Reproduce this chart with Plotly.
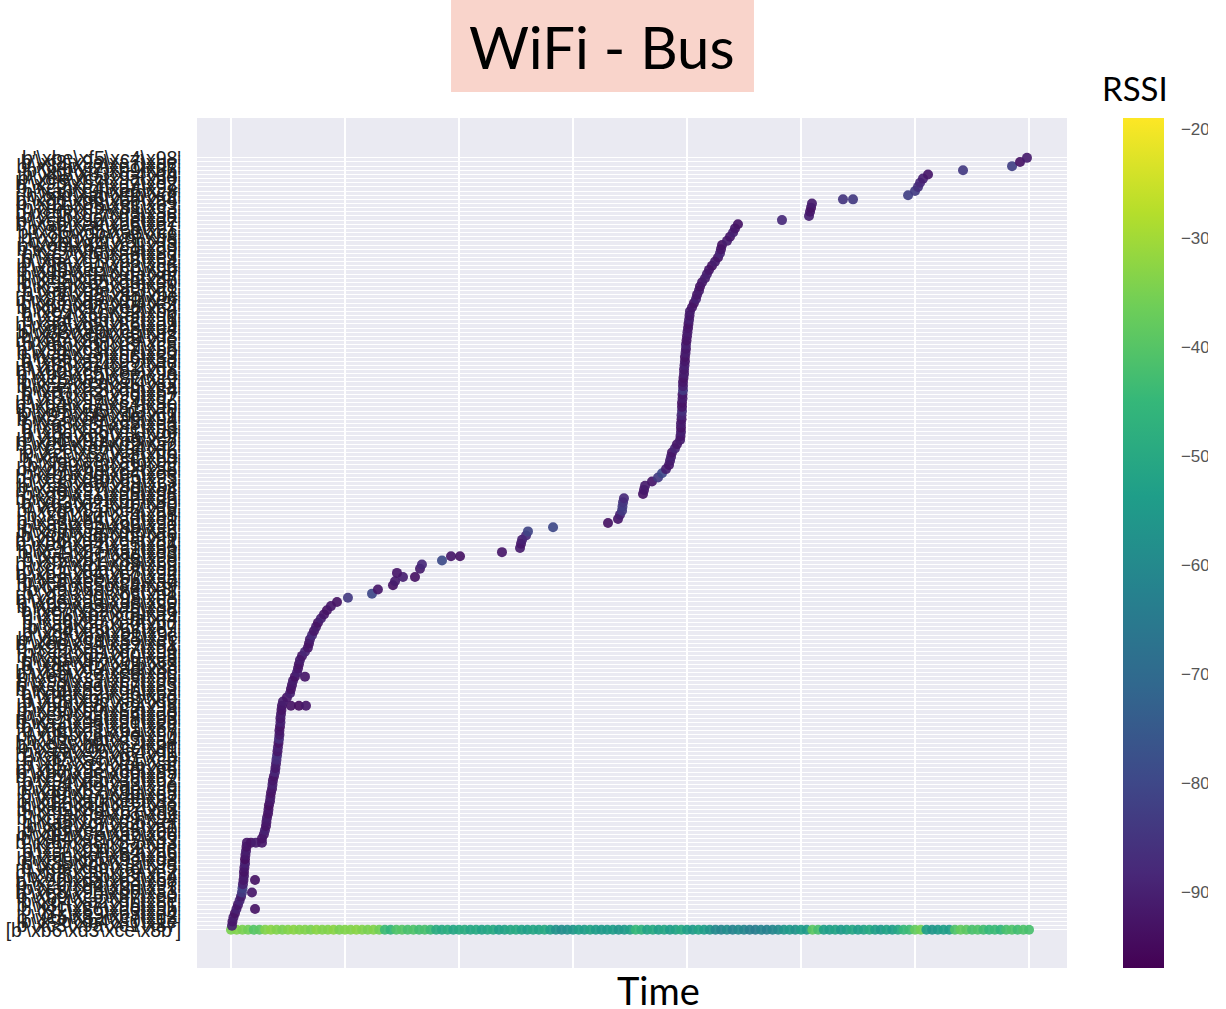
import plotly.graph_objects as go

# SSID labels (byte strings), bottom row first; row 0 is the bus's own access point
ssid_labels = [
    r"[b'\xb6\xd3\xce\x8b']",
    r"b'\xc3\x9a\xe1\x87'", r"b'\x9d\xb4\xf0\x1e'", r"b'\xe5\x8a\xc7\xd2'", r"b'x\xa9\xb3\xe4'", r"b'\xf1\x86\xd0\xab'", r"b'\x8c\xe7\x95\xb1'",
    r"b'\xd4\xa2\xfb\x8e'", r"b'\xb9\xc5\x87\xe0'", r"b'\xe8\x9b\xd6\xa3'", r"b'\xa7\xf4\x8d\xc1'", r"b'\xc9\x84\xbe\x97'", r"b'\x92\xda\xe3\xb8'",
    r"b'\xf6\xab\x8f\xc4'", r"b'\xb2\x98\xd9\xe7'", r"b'\xde\x8b\xa1\xf5'", r"b'\x85\xc8\xf2\x9a'", r"b'\xe1\xb6\x9c\xd8'", r"b'\xac\xef\x83\xb5'",
    r"b'\xcf\x91\xe4\xa6'", r"b'\x97\xbd\xc2\xfe'", r"b'\xeb\xa8\x8a\xd3'", r"b'\xb4\xd1\xf7\x89'", r"b'\xd9\x8e\xab\xc6'", r"b'\x8f\xe2\xc5\xb0'",
    r"b'\xf3\x9f\xd4\xa1'", r"b'\xa5\xc7\x86\xef'", r"b'\xce\xb3\xe9\x94'", r"b'\x9a\xf8\xb1\xdc'", r"b'\xe6\x8d\xa7\xc3'", r"b'\xbb\xd5\x92\xfa'",
    r"b'\xd2\xa0\xec\x88'", r"b'\x88\xe9\xbf\xb7'", r"b'\xf0\xb7\x8b\xd5'", r"b'\xa9\x82\xde\xc9'", r"b'\xc4\xfd\xa3\x9e'", r"b'\x94\xcb\xf6\xb2'",
    r"b'\xe9\xa5\x99\xd7'", r"b'\xb7\xde\xc0\x85'", r"b'\xdb\x93\xb8\xe6'", r"b'\x83\xc0\xe5\xaf'", r"b'\xf7\xac\x91\xcb'", r"b'\xad\xe4\xd7\x9b'",
    r"b'\xca\x96\xa4\xf1'", r"b'\x9e\xdb\xcc\x8d'", r"b'\xe3\xb9\x87\xbe'", r"b'\xbe\x8f\xf3\xa4'", r"b'\xd5\xc6\xae\x90'", r"b'\x8b\xf1\xba\xc7'",
    r"b'\xfa\xa3\xd1\x86'", r"b'\xa2\xd8\x9d\xe9'", r"b'\xc7\x8a\xe8\xb3'", r"b'\x99\xcf\xb4\xd0'", r"b'\xec\xb0\x8e\xa8'", r"b'\xb0\xe6\xc9\x95'",
    r"b'\xd8\x9c\xa2\xf9'", r"b'\x86\xbb\xf0\xcd'", r"b'\xf4\xd2\x96\xba'", r"b'\xab\x89\xdb\xe2'", r"b'\xcd\xea\xb7\x83'", r"b'\x95\xa7\xc3\xde'",
    r"b'\xe0\xc4\x8c\xb6'", r"b'\xb5\x9e\xe6\xa0'", r"b'\xd1\xf9\xaa\x8c'", r"b'\x8e\xb2\xd5\xf3'", r"b'\xfd\x87\xbd\xc8'", r"b'\xa6\xdc\x90\xe5'",
    r"b'\xc2\xa1\xfc\x99'", r"b'\x9b\xe8\xc7\xb4'", r"b'\xee\x94\xa9\xd1'", r"b'\xb8\xcd\x85\xec'", r"b'\xdf\xb8\xe1\x9c'", r"b'\x84\xf5\xb6\xca'",
    r"b'\xf8\xa6\xcf\x87'", r"b'\xaf\x8c\xe0\xbd'", r"b'\xcb\xd7\x9a\xf4'", r"b'\x93\xbf\xc8\xa9'", r"b'\xe7\x82\xf5\xd6'", r"b'\xbc\xe3\xa5\x8a'",
    r"b'\xd6\xaa\xd8\xc0'", r"b'\x8a\xd0\x93\xe8'", r"b'\xf2\x9d\xbc\xb1'", r"b'\xa0\xc9\xef\x8f'", r"b'\xc6\xb5\x84\xd9'", r"b'\x9f\xee\xcb\xa7'",
    r"b'\xea\x8b\xb2\xc5'", r"b'\xb3\xd4\xe7\x92'", r"b'\xdc\x9a\x9f\xeb'", r"b'\x87\xe1\xd3\xb9'", r"b'\xf5\xb1\x88\xce'", r"b'\xaa\xc2\xfd\x96'",
    r"b'\xc1\x8e\xac\xe3'", r"b'\x96\xf7\xc1\xbb'", r"b'\xe4\xa4\x95\xd4'", r"b'\xb6\xd9\xea\x81'", r"b'\xd0\x85\xb9\xf6'", r"b'\x8d\xca\xde\xa5'",
    r"b'\xfb\x9b\x8b\xc2'", r"b'\xa3\xe5\xcd\x9d'", r"b'\xc8\xb4\xa0\xe1'", r"b'\x91\xdf\xf4\xb8'", r"b'\xed\x81\xc6\xaa'", r"b'\xba\xc3\x97\xf0'",
    r"b'\xd3\xf2\xbb\x8b'", r"b'\x82\xae\xe2\xd5'", r"b'\xf9\xc1\xa8\x98'", r"b'\xae\x97\xd0\xe4'", r"b'\xc5\xe0\x8d\xbc'", r"b'\x98\xa9\xf9\xc3'",
    r"b'\xe2\xd6\xb5\x93'", r"b'\xbf\x8d\xc4\xee'", r"b'\xd7\xbc\x82\xa6'", r"b'\x89\xf3\xd9\xcf'", r"b'\xfc\xa8\xa6\xb0'", r"b'\xa1\xcc\xec\x89'",
    r"b'\xcc\x87\xbf\xdb'", r"b'\x9c\xe6\x94\xf2'", r"b'\xe9\xbd\xd2\xa2'", r"b'\xb1\x90\xe9\xc7'", r"b'\xda\xc9\xae\x9f'", r"b'\x8c\xa5\xf1\xd6'",
    r"b'\xf6\xd3\x8e\xb3'", r"b'\xa8\x8f\xc5\xe8'", r"b'\xc3\xeb\xa9\x94'", r"b'\x97\xb6\xdc\xc1'", r"b'\xe5\x95\xb3\xfd'", r"b'\xbd\xda\x81\xab'",
    r"b'\xd4\xa7\xe4\x8e'", r"b'\x83\xfa\xc9\xd2'", r"b'\xf1\xb3\x9d\xb7'", r"b'\xa7\xc8\xf8\x84'", r"b'\xce\x93\xab\xea'", r"b'\x92\xed\xd4\xbf'",
    r"b'\xe8\xb0\x87\xc9'", r"b'\xb2\xc5\xee\x9a'", r"b'\xdd\x8a\xb1\xd8'", r"b'\x85\xd4\xc2\xf7'", r"b'\xf3\xa2\x99\xad'", r"b'\xa5\xef\xd6\x83'",
    r"b'\xc9\x98\xbe\xe0'", r"b'\x9a\xc1\xe7\xb5'", r"b'\xe6\xdd\x8f\xca'", r"b'\xbb\x86\xd3\x9e'", r"b'\xd2\xb9\xa1\xf8'", r"b'\x88\xe0\xcc\xb2'",
    r"b'\xf0\x9c\xb8\xd4'", r"b'\xa9\xd5\x86\xe9'", r"b'\xc4\x8b\xf2\xa1'", r"b'\x94\xc6\xaf\xdd'", r"b'\xe9\xf0\x92\xb6'", r"b'\xb7\x97\xe8\xc4'",
    r"b'\xdb\xbe\xb4\x8f'", r"b'\x83\xa3\xd1\xe6'", r"b'\xf7\xd8\x8a\xbc'", r"b'\xad\x8e\xc3\xf1'", r"b'\xca\xe7\x9b\xa8'", r"b'\x9e\xb5\xf6\xd0'",
    r"b'\xe3\xcb\xa5\x87'", r"b'\xbe\x91\xda\xef'", r"b'\xd5\xec\xb0\x9b'", r"b'\x8b\xa0\xe3\xc6'", r"b'\xfa\xd1\x96\xb4'", r"b'\xa2\x99\xcf\xe3'",
    r"b'\xc7\xf6\xa8\x8d'", r"b'\x99\xbc\xed\xd9'", r"b'\xec\x84\xc1\xa3'", r"b'\xb0\xcf\x8c\xf5'", r"b'\xd8\xa6\xdf\xb8'", r"b'\x86\xdb\xa3\xcc'",
    r"b'\xf4\x8f\xc8\x91'", r"b'\xab\xe9\xb6\xe7'", r"b'\xcd\x92\x9e\xd2'", r"b'\x95\xc7\xf3\xaa'", r"b'\xe0\xb2\xd8\x8e'", r"b'\xb5\xfb\x81\xc3'",
    r"b'\xd1\x88\xec\xb9'", r"b'\x8e\xd6\xbb\xa4'", r"b'\xfd\xad\x90\xdf'", r"b'\xa6\x9f\xe5\xc8'", r"b'\xc2\xe4\xaa\x97'", r"b'\x9b\xb7\xd7\xe2'",
    r"b'\xee\xcc\x9a\xb0'", r"b'\xb8\x83\xc4\xf4'", r"b'\xdf\xf7\xb9\x86'", r"b'\x84\xc2\xe1\xd7'", r"b'\xf8\x9a\xa7\xbe'", r"b'\xbe\xf5\xc4\x98'",
]

# Bus access point: scan time (min) and RSSI (dBm)
bus_time = [
    0.0, 0.5, 1.0, 1.5, 2.0, 2.5, 3.0, 3.5, 4.0, 4.5, 5.0, 5.5, 6.0, 6.5, 7.0, 7.5, 8.0, 8.5, 9.0, 9.5,
    10.0, 10.5, 11.0, 11.5, 12.0, 12.5, 13.0, 13.5, 14.0, 14.5, 15.0, 15.5, 16.0, 16.5, 17.0, 17.5, 18.0, 18.5, 19.0, 19.5,
    20.0, 20.5, 21.0, 21.5, 22.0, 22.5, 23.0, 23.5, 24.0, 24.5, 25.0, 25.5, 26.0, 26.5, 27.0, 27.5, 28.0, 28.5, 29.0, 29.5,
    30.0, 30.5, 31.0, 31.5, 32.0, 32.5, 33.0, 33.5, 34.0, 34.5, 35.0, 35.5, 36.0, 36.5, 37.0, 37.5, 38.0, 38.5, 39.0, 39.5,
    40.0, 40.5, 41.0, 41.5, 42.0, 42.5, 43.0, 43.5, 44.0, 44.5, 45.0, 45.5, 46.0, 46.5, 47.0, 47.5, 48.0, 48.5, 49.0, 49.5,
    50.0, 50.5, 51.0, 51.5, 52.0, 52.5, 53.0, 53.5, 54.0, 54.5, 55.0, 55.5, 56.0, 56.5, 57.0, 57.5, 58.0, 58.5, 59.0, 59.5,
    60.0, 60.5, 61.0, 61.5, 62.0, 62.5, 63.0, 63.5, 64.0, 64.5, 65.0, 65.5, 66.0, 66.5, 67.0, 67.5, 68.0, 68.5, 69.0, 69.5,
    70.0,
]
bus_rssi = [
    -35, -34, -35, -36, -40, -39,
    -34, -33, -34, -35, -34, -33, -34, -34, -35, -33, -34, -34, -33, -35, -34, -34, -33, -34, -35, -34, -36,
    -44, -46,
    -41, -40, -42, -41, -43, -42, -44,
    -49, -50, -48, -51, -50, -49, -51,
    -50, -52, -51, -50, -53, -52, -51, -50, -52, -53, -51, -52, -50, -53,
    -57, -59, -58, -56,
    -53, -54, -52, -54, -55,
    -55, -54, -56, -55, -53,
    -45, -47,
    -52, -50, -53, -51, -54, -52, -50, -53, -55, -52, -54, -56,
    -60, -61, -59, -62, -60, -61,
    -63, -64, -62, -63, -61, -60,
    -56, -55, -57, -54, -55,
    -39, -42,
    -53, -54, -52, -55, -53, -51, -54, -52, -50, -53, -55, -52, -54, -51,
    -45, -44, -38,
    -36, -54, -56, -55, -53, -54,
    -41, -38, -39, -42, -41, -43,
    -45, -44, -46,
    -42, -41, -43, -41, -42,
]

# Other networks: label row, sighting time (min), RSSI (dBm)
dev_row = [
    1, 2, 3, 4, 5, 5, 6, 7, 8, 9, 9, 10, 11, 12, 12, 13, 14, 15, 16, 17, 18, 19, 20,
    21, 21, 21, 21, 22, 23, 24, 25, 26, 27, 28, 29, 30, 31, 32, 33, 34, 35, 36, 37, 38, 39, 40,
    41, 42, 43, 44, 45, 46, 47, 48, 49, 50, 51, 52, 53, 54, 54, 54, 54, 55, 56, 57, 58, 59, 60,
    61, 61, 62, 63, 64, 65, 66, 67, 68, 69, 70, 71, 72, 73, 74, 75, 76, 77, 78, 79, 80,
    81, 82, 83, 84, 85, 85, 86, 87, 88, 89, 90, 90, 91, 92, 93, 94, 95, 96, 97, 98, 99, 100,
    101, 102, 103, 104, 105, 106, 107, 108, 109, 110, 111, 112, 113, 114, 115, 116, 117, 118, 119, 120,
    121, 122, 123, 124, 125, 126, 127, 128, 129, 130, 131, 132, 133, 134, 135, 136, 137, 138, 139, 140,
    141, 142, 143, 144, 145, 146, 147, 148, 149, 150, 151, 152, 153, 154, 155, 156, 157, 158, 159, 160,
    161, 162, 163, 164, 165, 166, 167, 168, 169, 170, 171, 172, 173, 174, 175, 176, 176, 177, 178, 179, 180,
    181, 182, 183, 184, 185, 186,
]
dev_time = [
    0.09, 0.13, 0.22, 0.35, 0.48, 2.11, 0.61, 0.75, 0.88, 0.96, 1.84, 1.01, 1.05, 1.10, 2.11, 1.14, 1.14, 1.18, 1.23, 1.23, 1.27, 1.32, 1.36,
    1.40, 1.75, 2.19, 2.72, 2.72, 2.89, 2.98, 3.07, 3.11, 3.16, 3.25, 3.29, 3.33, 3.42, 3.46, 3.51, 3.60, 3.64, 3.68, 3.77, 3.86, 3.90, 3.95,
    3.99, 4.04, 4.08, 4.12, 4.17, 4.21, 4.25, 4.25, 4.30, 4.34, 4.34, 4.39, 4.43, 4.47, 5.26, 5.96, 6.58, 4.56, 4.91, 5.18, 5.26, 5.35, 5.44,
    5.61, 6.49, 5.79, 5.88, 5.96, 6.05, 6.23, 6.49, 6.75, 6.84, 6.93, 7.11, 7.28, 7.46, 7.63, 7.89, 8.16, 8.42, 8.77, 9.30, 10.26,
    12.37, 12.89, 14.21, 14.39, 15.09, 16.14, 14.56, 16.58, 16.75, 18.51, 19.30, 20.09, 23.77, 25.35, 25.44, 25.53, 25.88, 26.05, 28.25, 33.07, 33.95, 34.12,
    34.30, 34.34, 34.39, 34.47, 36.14, 36.23, 36.32, 36.93, 37.46, 37.81, 38.16, 38.42, 38.51, 38.60, 38.68, 38.95, 39.12, 39.39, 39.43, 39.47,
    39.47, 39.47, 39.52, 39.52, 39.56, 39.56, 39.56, 39.61, 39.61, 39.65, 39.65, 39.65, 39.69, 39.74, 39.74, 39.78, 39.82, 39.82, 39.87, 39.91,
    39.91, 39.96, 40.00, 40.04, 40.09, 40.13, 40.18, 40.22, 40.26, 40.44, 40.61, 40.79, 40.88, 41.05, 41.14, 41.32, 41.58, 41.75, 41.93, 42.19,
    42.46, 42.72, 42.89, 42.98, 43.07, 43.51, 43.77, 44.04, 44.21, 44.47, 48.33, 50.70, 50.79, 50.88, 50.96, 53.68, 54.56, 59.39, 60.00, 60.26, 60.44,
    60.70, 61.14, 64.21, 68.51, 69.21, 69.82,
]
dev_rssi = [
    -90, -92, -91, -93, -90, -93, -92, -89, -91, -84, -92, -82, -90, -92, -93, -91, -93, -92, -90, -94, -92, -91, -93,
    -92, -93, -91, -92, -93, -92, -90, -93, -92, -91, -93, -92, -94, -92, -91, -93, -92, -90, -92, -93, -89, -92, -91,
    -88, -86, -92, -90, -93, -87, -91, -92, -93, -90, -92, -91, -93, -92, -93, -94, -92, -91, -92, -90, -93, -92, -91,
    -93, -92, -90, -92, -93, -91, -92, -89, -92, -93, -91, -88, -92, -91, -93, -90, -92, -93, -92, -93, -84,
    -80, -92, -93, -91, -90, -93, -92, -91, -88, -79, -92, -93, -92, -91, -92, -90, -88, -81, -80, -93, -92, -90,
    -84, -83, -85, -88, -93, -92, -91, -92, -84, -80, -90, -92, -91, -90, -92, -89, -92, -91, -92, -90,
    -93, -91, -92, -89, -86, -92, -93, -91, -92, -84, -90, -92, -93, -91, -92, -90, -92, -93, -91, -92,
    -90, -93, -92, -91, -92, -93, -90, -92, -91, -92, -93, -90, -92, -91, -93, -92, -91, -90, -92, -93,
    -91, -92, -89, -92, -93, -91, -92, -90, -92, -93, -88, -90, -92, -93, -91, -85, -84, -82, -83, -86, -88,
    -90, -92, -84, -82, -93, -91,
]

time_ticks = [0, 10, 20, 30, 40, 50, 60, 70]
rssi_ticks = [-90, -80, -70, -60, -50, -40, -30, -20]

marker_style = dict(size=10, opacity=0.92, coloraxis="coloraxis", line=dict(width=0))

fig = go.Figure()
fig.add_trace(go.Scatter(
    x=bus_time, y=[ssid_labels[0]] * len(bus_time), mode="markers",
    marker=dict(color=bus_rssi, **marker_style), showlegend=False,
))
fig.add_trace(go.Scatter(
    x=dev_time, y=[ssid_labels[r] for r in dev_row], mode="markers",
    marker=dict(color=dev_rssi, **marker_style), showlegend=False,
))

fig.update_layout(
    width=1208, height=1009,
    margin=dict(l=197, r=141, t=118, b=41, autoexpand=False),
    paper_bgcolor="white", plot_bgcolor="#EAEAF2",
    coloraxis=dict(
        colorscale="Viridis", cmin=-97, cmax=-19,
        colorbar=dict(
            x=1.0644, xanchor="left", y=0.5, yanchor="middle", len=1, lenmode="fraction",
            thickness=41, xpad=0, ypad=0, outlinewidth=0,
            tickvals=rssi_ticks, ticks="outside", ticklen=14, tickcolor="rgba(0,0,0,0)",
            tickfont=dict(family="Liberation Sans, Arial, sans-serif", size=17, color="#555555"),
        ),
    ),
    xaxis=dict(
        range=[-2.98, 73.33], tickmode="array", tickvals=time_ticks, showticklabels=False,
        showgrid=True, gridcolor="white", gridwidth=1.6, zeroline=False, showline=False, ticks="",
    ),
    yaxis=dict(
        type="category", categoryorder="array", categoryarray=ssid_labels,
        tickmode="array", tickvals=ssid_labels, ticktext=ssid_labels,
        range=[-9.2, 195.6], automargin=False,
        showgrid=True, gridcolor="white", gridwidth=1, zeroline=False, showline=False,
        ticks="outside", ticklen=11, tickcolor="rgba(0,0,0,0)",
        tickfont=dict(family="Liberation Sans, Arial, sans-serif", size=19.5, color="#222222"),
    ),
    shapes=[dict(
        type="rect", xref="paper", yref="paper", x0=0.292, x1=0.6402, y0=1.0306, y1=1.1388,
        fillcolor="#F9D4CB", line=dict(width=0), layer="below",
    )],
    annotations=[
        dict(text="WiFi - Bus", xref="paper", yref="paper", x=0.4655, y=1.0847,
             xanchor="center", yanchor="middle", showarrow=False,
             font=dict(family="Lato, sans-serif", size=58, color="black")),
        dict(text="RSSI", xref="paper", yref="paper", x=1.078, y=1.0353,
             xanchor="center", yanchor="middle", showarrow=False,
             font=dict(family="Lato, sans-serif", size=33, color="black")),
        dict(text="Time", xref="paper", yref="paper", x=0.53, y=-0.026,
             xanchor="center", yanchor="middle", showarrow=False,
             font=dict(family="Lato, sans-serif", size=38, color="black")),
    ],
)

fig.write_html("out.html")
